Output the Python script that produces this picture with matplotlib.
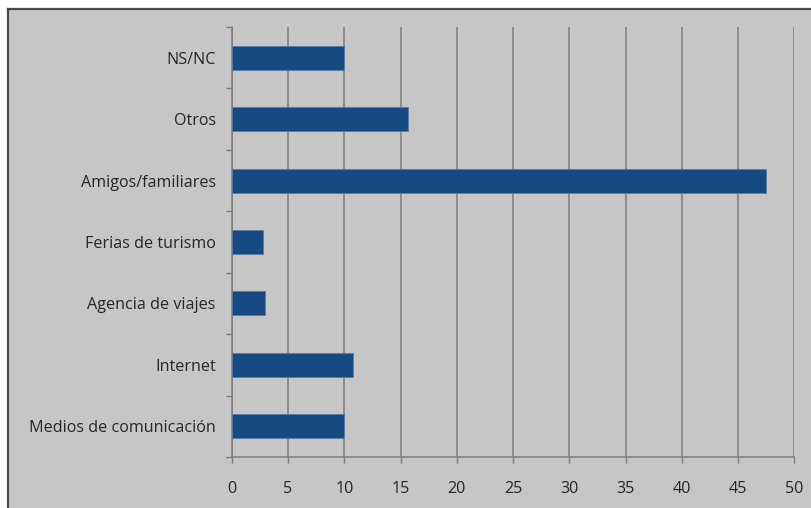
import matplotlib
matplotlib.use("Agg")
import matplotlib.pyplot as plt
from matplotlib.patches import Rectangle
from matplotlib.lines import Line2D
import numpy as np

categories = ["Medios de comunicación", "Internet", "Agencia de viajes",
              "Ferias de turismo", "Amigos/familiares", "Otros", "NS/NC"]
values = [10.0, 10.8, 3.0, 2.8, 47.5, 15.7, 10.0]
x_ticks = [0, 5, 10, 15, 20, 25, 30, 35, 40, 45, 50]

W, H = 812, 508
bg = "#c6c6c6"
bar_color = "#174a82"
grid_color = "#7c7c7c"
text_color = "#262626"

plt.rcParams["font.family"] = ["Open Sans", "DejaVu Sans"]

fig = plt.figure(figsize=(W / 100, H / 100), dpi=100, facecolor=bg)

# white margin along the top and left, with a dark frame line
fig.patches.append(Rectangle((0, 1 - 8 / H), 1, 8 / H, transform=fig.transFigure,
                             facecolor="white", edgecolor="none", zorder=0))
fig.patches.append(Rectangle((0, 0), 7 / W, 1, transform=fig.transFigure,
                             facecolor="white", edgecolor="none", zorder=0))
fig.lines.append(Line2D([8 / W, 1], [1 - 9 / H, 1 - 9 / H], transform=fig.transFigure,
                        color="#4a4a4a", lw=1.6))
fig.lines.append(Line2D([8 / W, 8 / W], [0, 1 - 9 / H], transform=fig.transFigure,
                        color="#4a4a4a", lw=1.6))

left, right = 231.7 / W, 794.5 / W
top, bottom = 1 - 27 / H, 1 - 457 / H
ax = fig.add_axes([left, bottom, right - left, top - bottom])
ax.set_facecolor(bg)

y = np.arange(len(categories))
ax.barh(y, values, height=0.39, color=bar_color, edgecolor="#5a7aa5",
        linewidth=0.6, zorder=3)

ax.set_xlim(0, 50)
ax.set_ylim(-0.5, len(categories) - 0.5)
ax.set_xticks(x_ticks)
ax.set_xticklabels([str(t) for t in x_ticks])
ax.set_yticks(y)
ax.set_yticklabels(categories)
ax.set_yticks(np.arange(-0.5, len(categories), 1.0), minor=True)

ax.tick_params(axis="y", which="major", length=0, pad=11.5, labelsize=11.6,
               labelcolor=text_color)
ax.tick_params(axis="y", which="minor", length=4.5, width=1.0, color=grid_color,
               direction="out")
ax.tick_params(axis="x", which="major", length=4.5, width=1.0, color=grid_color,
               direction="out", pad=13, labelsize=11.6, labelcolor=text_color)

ax.xaxis.grid(True, color=grid_color, linewidth=1.1, zorder=1)
ax.set_axisbelow(True)

for side in ("top", "right"):
    ax.spines[side].set_visible(False)
for side in ("left", "bottom"):
    ax.spines[side].set_color(grid_color)
    ax.spines[side].set_linewidth(1.1)

fig.savefig("out.png", dpi=100, facecolor=bg)
